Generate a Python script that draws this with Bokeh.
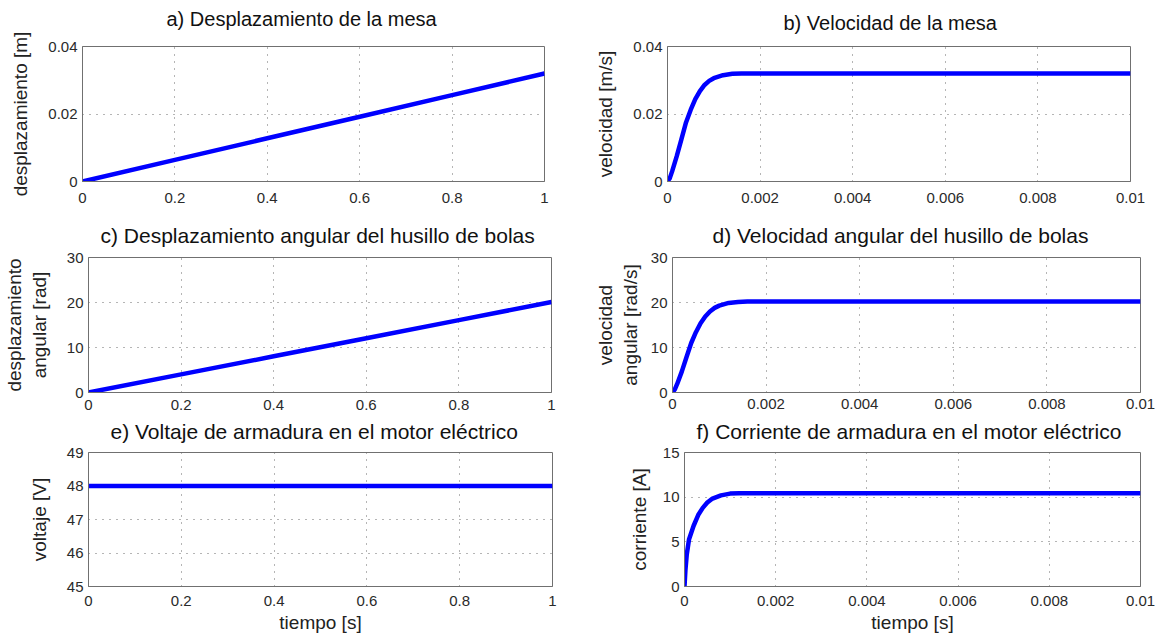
from bokeh.plotting import figure
from bokeh.layouts import column, row
from bokeh.models import FixedTicker, Range1d, Title
from bokeh.embed import file_html
from bokeh.resources import INLINE

# ---- simulated response of the ball-screw table drive ----
t_largo = [0.0, 0.2, 0.4, 0.6, 0.8, 1.0]
desplazamiento_mesa = [0.0, 0.0064, 0.0128, 0.0192, 0.0256, 0.032]
desplazamiento_angular = [0.0, 4.02, 8.04, 12.06, 16.08, 20.1]
voltaje_armadura = [48.0, 48.0, 48.0, 48.0, 48.0, 48.0]

t_vel = [0.0, 0.00005, 0.0001, 0.0002, 0.0003, 0.0004, 0.0005, 0.0006,
         0.0007, 0.0008, 0.0009, 0.001, 0.0012, 0.0014, 0.0016, 0.002, 0.01]
velocidad_mesa = [0.0, 0.001, 0.003, 0.0075, 0.0125, 0.0175, 0.0212, 0.0244,
                  0.0268, 0.0286, 0.0298, 0.0306, 0.0315, 0.0319, 0.032, 0.032, 0.032]
velocidad_angular = [0.0, 0.7, 1.9, 4.7, 7.9, 11.0, 13.4, 15.4,
                     16.9, 18.0, 18.8, 19.3, 19.9, 20.1, 20.2, 20.2, 20.2]

t_corr = [0.0, 0.00002, 0.00005, 0.0001, 0.0002, 0.0003, 0.0004, 0.0005,
          0.0006, 0.0008, 0.001, 0.0012, 0.01]
corriente_armadura = [0.0, 1.8, 3.6, 5.3, 6.8, 8.0, 8.8, 9.4,
                      9.8, 10.2, 10.4, 10.45, 10.45]

# ---- tick positions and labels ----
ticks_t_largo = [0.0, 0.2, 0.4, 0.6, 0.8, 1.0]
etiq_t_largo = ["0", "0.2", "0.4", "0.6", "0.8", "1"]
ticks_t_corto = [0.0, 0.002, 0.004, 0.006, 0.008, 0.01]
etiq_t_corto = ["0", "0.002", "0.004", "0.006", "0.008", "0.01"]
ticks_desp = [0.0, 0.02, 0.04]
etiq_desp = ["0", "0.02", "0.04"]
ticks_ang = [0.0, 10.0, 20.0, 30.0]
etiq_ang = ["0", "10", "20", "30"]
ticks_volt = [45.0, 46.0, 47.0, 48.0, 49.0]
etiq_volt = ["45", "46", "47", "48", "49"]
ticks_corr = [0.0, 5.0, 10.0, 15.0]
etiq_corr = ["0", "5", "10", "15"]

FONT = "Liberation Sans"
FRAME = "#707070"


def panel(titulo, etiqueta_y, x, y, x_lim, y_lim, xt, xl, yt, yl,
          width, height, borders, title_fmt, ylab_gap,
          etiqueta_x=None, xtick_gap=11):
    left, right, top, bottom = borders
    t_size, t_offset, t_gap = title_fmt
    p = figure(width=width, height=height, output_backend="svg",
               toolbar_location=None, tools="",
               x_range=Range1d(*x_lim), y_range=Range1d(*y_lim),
               min_border_left=left, min_border_right=right,
               min_border_top=top, min_border_bottom=bottom)

    # heading, kept clear of the axes box by an empty spacer title
    p.title.text = titulo
    p.title.align = "left"
    p.title.offset = t_offset
    p.title.standoff = 0
    p.title.text_font = FONT
    p.title.text_font_size = t_size
    p.title.text_font_style = "normal"
    p.title.text_color = "#111111"
    p.add_layout(Title(text=" ", text_font_size="1px", standoff=t_gap), "above")

    p.outline_line_color = FRAME
    p.outline_line_width = 1
    p.background_fill_color = "white"
    p.border_fill_color = "white"

    p.xaxis.ticker = FixedTicker(ticks=xt)
    p.xaxis.major_label_overrides = dict(zip(xt, xl))
    p.yaxis.ticker = FixedTicker(ticks=yt)
    p.yaxis.major_label_overrides = dict(zip(yt, yl))

    for ax in (p.xaxis[0], p.yaxis[0]):
        ax.axis_line_color = FRAME
        ax.major_tick_line_color = None
        ax.minor_tick_line_color = None
        ax.major_tick_out = 0
        ax.major_tick_in = 0
        ax.minor_tick_out = 0
        ax.minor_tick_in = 0
        ax.major_label_text_font = FONT
        ax.major_label_text_font_size = "15px"
        ax.major_label_text_color = "#2a2a2a"
        ax.axis_label_text_font = FONT
        ax.axis_label_text_font_size = "19px"
        ax.axis_label_text_font_style = "normal"
        ax.axis_label_text_color = "#222222"
    p.xaxis.major_label_standoff = xtick_gap
    p.yaxis.major_label_standoff = 5
    p.yaxis.axis_label = etiqueta_y
    p.yaxis.axis_label_standoff = ylab_gap
    if etiqueta_x:
        p.xaxis.axis_label = etiqueta_x
        p.xaxis.axis_label_standoff = 3

    p.xgrid[0].ticker = FixedTicker(ticks=xt)
    p.ygrid[0].ticker = FixedTicker(ticks=yt)
    for g in (p.xgrid[0], p.ygrid[0]):
        g.grid_line_color = "#6a6a6a"
        g.grid_line_dash = "1 6"
        g.grid_line_width = 1

    p.line(x, y, line_color="#0000ff", line_width=4.5)
    return p


pa = panel("a) Desplazamiento de la mesa", "desplazamiento [m]",
           t_largo, desplazamiento_mesa, (0, 1), (0, 0.04),
           ticks_t_largo, etiq_t_largo, ticks_desp, etiq_desp,
           580, 218, (82, 36, 43, 37), ("20px", 84, 14), 14)
pb = panel("b) Velocidad de la mesa", "velocidad [m/s]",
           t_vel, velocidad_mesa, (0, 0.01), (0, 0.04),
           ticks_t_corto, etiq_t_corto, ticks_desp, etiq_desp,
           579, 218, (87, 29, 46, 34), ("20px", 116, 10), 14)
pc = panel("c) Desplazamiento angular del husillo de bolas",
           "desplazamiento\nangular [rad]",
           t_largo, desplazamiento_angular, (0, 1), (0, 30),
           ticks_t_largo, etiq_t_largo, ticks_ang, etiq_ang,
           580, 199, (88, 29, 37, 25), ("21px", 12, 8), 14, xtick_gap=7)
pd_ = panel("d) Velocidad angular del husillo de bolas",
            "velocidad\nangular [rad/s]",
            t_vel, velocidad_angular, (0, 0.01), (0, 30),
            ticks_t_corto, etiq_t_corto, ticks_ang, etiq_ang,
            579, 199, (92, 19, 39, 24), ("21px", 40, 8), 7, xtick_gap=6)
pe = panel("e) Voltaje de armadura en el motor eléctrico", "voltaje [V]",
           t_largo, voltaje_armadura, (0, 1), (45, 49),
           ticks_t_largo, etiq_t_largo, ticks_volt, etiq_volt,
           580, 218, (88, 28, 33, 48), ("21px", 22, 7), 14,
           etiqueta_x="tiempo [s]", xtick_gap=9)
pf = panel("f) Corriente de armadura en el motor eléctrico", "corriente [A]",
           t_corr, corriente_armadura, (0, 0.01), (0, 15),
           ticks_t_corto, etiq_t_corto, ticks_corr, etiq_corr,
           579, 218, (104, 19, 33, 48), ("21px", 12, 7), 10,
           etiqueta_x="tiempo [s]", xtick_gap=9)

layout = column(row(pa, pb), row(pc, pd_), row(pe, pf))

with open("out.html", "w") as f:
    f.write(file_html(layout, INLINE))
